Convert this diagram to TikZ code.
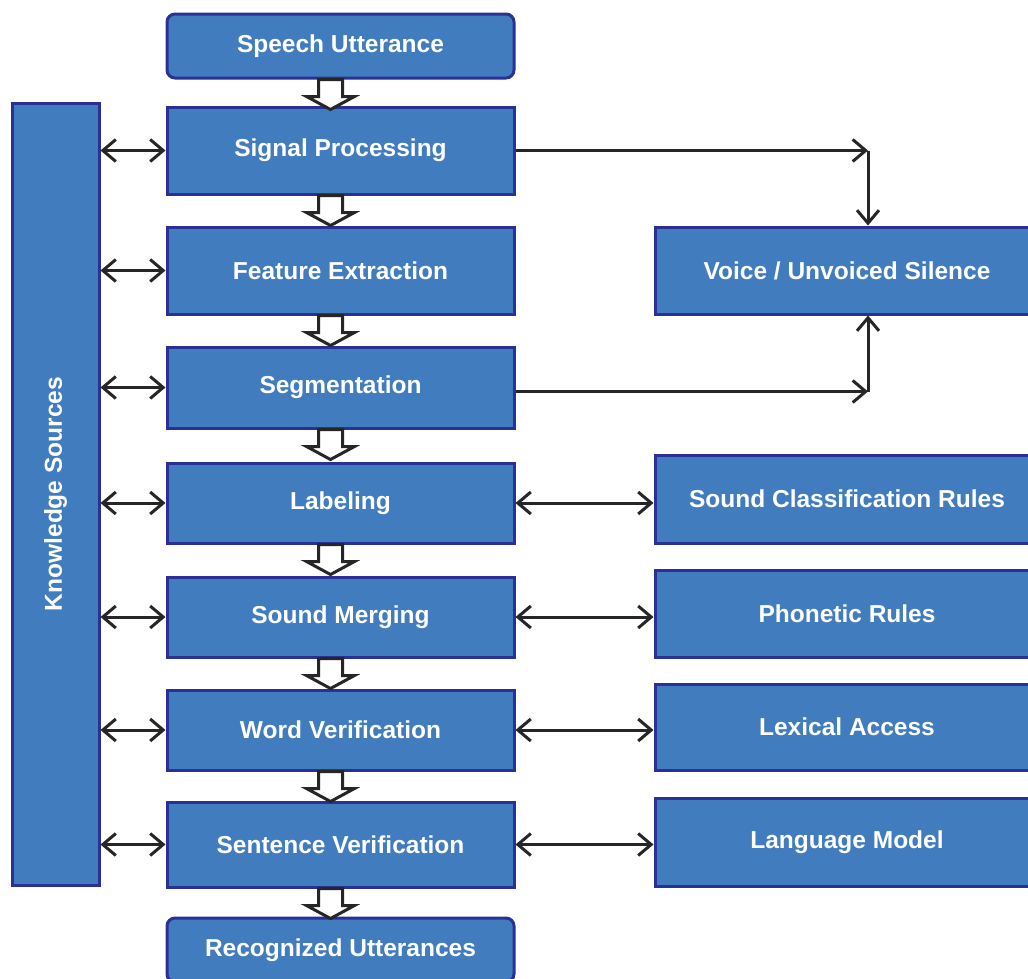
\documentclass[tikz,border=0pt]{standalone}
\usepackage{fontspec}
\setmainfont{Liberation Sans}
\usetikzlibrary{arrows.meta}
\definecolor{boxblue}{RGB}{65,124,190}
\definecolor{edgeblue}{RGB}{42,48,150}

\begin{document}
\begin{tikzpicture}[x=1pt,y=-1pt,
  box/.style={draw=edgeblue,line width=3pt,fill=boxblue,text=white,
    font=\fontsize{24.5}{29}\selectfont\bfseries,inner sep=0pt,minimum width=347pt},
  side/.style={box,minimum width=384pt},
  barb/.tip={Straight Barb[length=13pt,width=22pt]},
  link/.style={line width=3pt,black!85,barb-barb},
  flow/.style={line width=3pt,black!85,-barb},
  hollow/.style={draw=black!85,line width=3pt,fill=white,line join=miter}]
  \useasboundingbox (0,0) rectangle (1028,978);
  % main chain
  \node[box,rounded corners=8pt,minimum height=64pt] (su) at (340.5,46) {Speech Utterance};
  \foreach \n/\y/\h/\t in {sp/150.5/87/Signal Processing,fe/270.5/87/Feature Extraction,seg/387.5/81/Segmentation,lab/503/80/Labeling,sm/617/80/Sound Merging,wv/730/80/Word Verification,sv/844.5/85/Sentence Verification}
    \node[box,minimum height=\h pt] (\n) at (340.5,\y) {\t};
  \node[box,rounded corners=8pt,minimum height=64pt] (ru) at (340.5,950) {Recognized Utterances};
  % side boxes
  \node[box,rotate=90,minimum width=782pt,minimum height=87pt] (ks) at (55.5,494) {Knowledge Sources};
  \foreach \n/\y/\h/\t in {voice/270.5/87/{Voice / Unvoiced Silence},scr/499/88/Sound Classification Rules,pr/613.5/87/Phonetic Rules,la/727/86/Lexical Access,lm/842/88/Language Model}
    \node[side,minimum height=\h pt] (\n) at (847,\y) {\t};
  % hollow arrows down the chain
  \foreach \a in {su,sp,fe,seg,lab,sm,wv,sv}
    \draw[hollow] ([xshift=-22pt]\a.south) -- ++(0,17) -- ++(-12,0) -- ++(24,13) -- ++(24,-13) -- ++(-12,0) -- ++(0,-17) -- cycle;
  % knowledge links
  \foreach \n in {sp,fe,seg,lab,sm,wv,sv}
    \draw[link] (ks.south |- \n.west) -- (\n.west);
  \foreach \a/\b in {lab/scr,sm/pr,wv/la,sv/lm}
    \draw[link] (\a.east) -- (\a.east -| \b.west);
  % voicing
  \coordinate (vin) at ([xshift=21pt]voice.north);
  \coordinate (vout) at ([xshift=21pt]voice.south);
  \coordinate (vtop) at (sp.east -| vin);
  \coordinate (vbot) at ([yshift=-4pt]seg.east -| vin);
  \draw[flow] (sp.east) -- (vtop);
  \draw[flow] (vtop) -- (vin);
  \draw[flow] ([yshift=-4pt]seg.east) -- (vbot);
  \draw[flow] (vbot) -- (vout);
\end{tikzpicture}
\end{document}
